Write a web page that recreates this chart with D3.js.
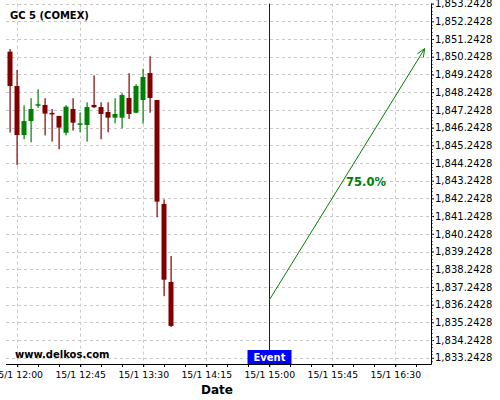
<!DOCTYPE html>
<html><head><meta charset="utf-8">
<script src="https://cdn.jsdelivr.net/npm/d3@7/dist/d3.min.js"></script>
<style>body{margin:0;background:#fff} svg{display:block;font-family:"DejaVu Sans",sans-serif}</style>
</head><body><svg id="c" width="500" height="400"></svg>
<script>
const title = "GC 5 (COMEX)";
const times = ["11:55","12:00","12:05","12:10","12:15","12:20","12:25","12:30","12:35","12:40","12:45","12:50",
               "12:55","13:00","13:05","13:10","13:15","13:20","13:25","13:30","13:35","13:40","13:45","13:50"];
const opens  = [1850.53,1848.59,1845.82,1846.61,1847.52,1847.52,1847.07,1846.90,1845.95,1847.29,1846.42,1846.39,
                1847.52,1847.40,1847.12,1846.80,1846.80,1847.91,1847.08,1847.80,1849.32,1847.80,1841.93,1837.52];
const highs  = [1850.68,1849.49,1847.50,1847.90,1848.40,1847.90,1847.29,1846.90,1847.50,1847.90,1847.08,1847.67,
                1849.19,1847.67,1847.67,1847.90,1848.18,1849.31,1848.69,1849.57,1850.27,1847.80,1842.19,1838.99];
const lows   = [1845.96,1844.13,1845.58,1845.41,1847.35,1845.80,1845.45,1845.02,1845.80,1846.07,1845.98,1845.45,
                1847.35,1845.58,1845.98,1846.48,1846.20,1846.73,1847.05,1846.47,1847.08,1841.18,1836.72,1834.98];
const closes = [1848.59,1845.82,1846.61,1847.29,1847.56,1847.03,1847.01,1846.24,1847.42,1846.52,1846.48,1847.40,
                1847.39,1847.01,1846.80,1847.01,1848.08,1847.01,1848.59,1849.10,1847.91,1842.06,1837.65,1835.04];
const yTicks = [1833.2428,1834.2428,1835.2428,1836.2428,1837.2428,1838.2428,1839.2428,1840.2428,1841.2428,1842.2428,
                1843.2428,1844.2428,1845.2428,1846.2428,1847.2428,1848.2428,1849.2428,1850.2428,1851.2428,1852.2428,1853.2428];
const xTicks = ["12:00","12:45","13:30","14:15","15:00","15:45","16:30"];
const eventTime = "15:00";
const eventLabel = "Event";
const arrowStart = ["15:00", 1836.50];
const arrowEnd = ["16:51", 1850.70];
const pctLabel = "75.0%";
const watermark = "www.delkos.com";
const xTitle = "Date";

const parse = s => d3.timeParse("%d/%m %H:%M")("15/1 " + s);
const fmt = d3.timeFormat("%-d/%-m %H:%M");
const L = 6, R = 431, T = 3.6, B = 364;
const x = d3.scaleTime().domain([parse("11:52"), new Date(parse("16:55").getTime() + 30000)]).range([L, R]);
const y = d3.scaleLinear().domain([1832.89, 1853.2428]).range([B, T]);

const svg = d3.select("#c");
const red = "#800000", green = "#008000", blue = "#0000ff";

// grid
const grid = svg.append("g").attr("stroke", "#c8c8c8").attr("stroke-dasharray", "3,3").attr("stroke-width", 1);
grid.selectAll(".h").data(yTicks).join("line")
  .attr("x1", L).attr("x2", R).attr("y1", d => Math.round(y(d)) + 0.5).attr("y2", d => Math.round(y(d)) + 0.5);
grid.selectAll(".v").data(xTicks).join("line")
  .attr("y1", T).attr("y2", B).attr("x1", d => Math.round(x(parse(d))) + 0.5).attr("x2", d => Math.round(x(parse(d))) + 0.5);

// candles
const data = times.map((t, i) => ({t: parse(t), o: opens[i], h: highs[i], l: lows[i], c: closes[i]}));
const cg = svg.append("g");
cg.selectAll("rect.w").data(data).join("rect")
  .attr("x", d => Math.round(x(d.t)) - 0.5).attr("width", 1.2)
  .attr("y", d => y(d.h)).attr("height", d => y(d.l) - y(d.h))
  .attr("fill", d => d.c >= d.o ? green : red);
cg.selectAll("rect.b").data(data).join("rect")
  .attr("x", d => Math.round(x(d.t)) - 2.5).attr("width", 5)
  .attr("y", d => y(Math.max(d.o, d.c))).attr("height", d => Math.max(1.5, Math.abs(y(d.o) - y(d.c))))
  .attr("fill", d => d.c >= d.o ? green : red);

// event line
const ex = Math.round(x(parse(eventTime))) + 0.5;
svg.append("line").attr("x1", ex).attr("x2", ex).attr("y1", T).attr("y2", B).attr("stroke", blue).attr("stroke-width", 1);

// arrow
const ax1 = x(parse(arrowStart[0])), ay1 = y(arrowStart[1]);
const ax2 = x(parse(arrowEnd[0])), ay2 = y(arrowEnd[1]);
const ang = Math.atan2(ay2 - ay1, ax2 - ax1);
const ah = 9, spread = 0.4;
svg.append("path")
  .attr("d", `M${ax1},${ay1}L${ax2},${ay2}M${ax2 - ah*Math.cos(ang - spread)},${ay2 - ah*Math.sin(ang - spread)}L${ax2},${ay2}L${ax2 - ah*Math.cos(ang + spread)},${ay2 - ah*Math.sin(ang + spread)}`)
  .attr("fill", "none").attr("stroke", green).attr("stroke-width", 1);
svg.append("text").attr("x", 366).attr("y", 186).attr("text-anchor", "middle")
  .attr("font-weight", "bold").attr("font-size", 11.5).attr("fill", green).text(pctLabel);

// axes
const xAxis = svg.append("g").attr("transform", `translate(0,${B})`)
  .call(d3.axisBottom(x).tickValues(xTicks.map(parse)).tickFormat(fmt).tickSize(3).tickPadding(4));
xAxis.select(".domain").remove();
xAxis.selectAll("text").attr("font-size", 9.3).attr("font-family", "DejaVu Sans").attr("fill", "#000");
const minorX = d3.timeMinute.every(15).range(parse("12:00"), parse("16:55"));
svg.append("g").selectAll("line").data(minorX).join("line")
  .attr("x1", d => Math.round(x(d)) + 0.5).attr("x2", d => Math.round(x(d)) + 0.5)
  .attr("y1", B).attr("y2", B + 3).attr("stroke", "#000");

const yAxis = svg.append("g").attr("transform", `translate(${R},0)`)
  .call(d3.axisRight(y).tickValues(yTicks).tickFormat(d3.format(",.4f")).tickSize(3).tickPadding(1));
yAxis.select(".domain").remove();
yAxis.selectAll("text").attr("font-size", 10).attr("font-family", "DejaVu Sans").attr("fill", "#000");
const minorY = d3.range(0, 101).map(i => 1833.2428 + i * 0.2 - 0.2).filter(v => y(v) <= B && y(v) >= T);
svg.append("g").selectAll("line").data(minorY).join("line")
  .attr("x1", R).attr("x2", R + 2).attr("y1", d => Math.round(y(d)) + 0.5).attr("y2", d => Math.round(y(d)) + 0.5)
  .attr("stroke", "#555").attr("stroke-width", 0.8);

svg.append("line").attr("x1", L).attr("x2", R + 0.5).attr("y1", B + 0.5).attr("y2", B + 0.5).attr("stroke", "#000");
svg.append("line").attr("x1", R + 0.5).attr("x2", R + 0.5).attr("y1", T).attr("y2", B + 0.5).attr("stroke", "#000");

// event label
svg.append("rect").attr("x", ex - 22).attr("y", 350).attr("width", 44).attr("height", 14).attr("fill", blue);
svg.append("text").attr("x", ex).attr("y", 361).attr("text-anchor", "middle").attr("font-weight", "bold")
  .attr("font-size", 10).attr("fill", "#fff").text(eventLabel);

// texts
svg.append("text").attr("x", 10).attr("y", 18.7).attr("font-weight", "bold").attr("font-size", 10).text(title);
svg.append("text").attr("x", 15).attr("y", 357.5).attr("font-weight", "bold").attr("font-size", 10).text(watermark);
svg.append("text").attr("x", 217).attr("y", 394).attr("text-anchor", "middle").attr("font-weight", "bold").attr("font-size", 12).text(xTitle);
</script></body></html>
